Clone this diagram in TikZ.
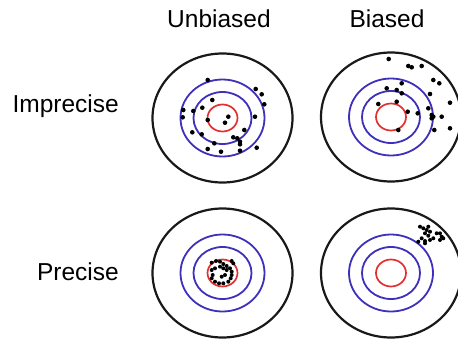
\documentclass[tikz,border=0pt]{standalone}
\usepackage{fontspec}
\setmainfont{Liberation Sans}
\usepackage{tikz}
\usetikzlibrary{positioning}
\usepackage{xcolor}
\definecolor{ringblue}{RGB}{62,48,186}
\definecolor{ringred}{RGB}{226,48,48}

\begin{document}
\begin{tikzpicture}[x=1pt,y=-1pt,font=\fontsize{24.5}{29}\selectfont]
\tikzset{
  outer/.style={draw=black!90,line width=2.2pt},
  blue ring/.style={draw=ringblue,line width=1.8pt},
  red ring/.style={draw=ringred,line width=1.7pt},
  hit/.style={fill=black},
  lbl/.style={inner sep=0pt}
}
\useasboundingbox (0,0) rectangle (458,338);

% column and row labels
\node[lbl,anchor=base] (unb) at (219,27.7) {Unbiased};
\node[lbl,anchor=base] (bia) at (387,27.7) {Biased};
\node[lbl,anchor=base east] (impr) at (119,112.3) {Imprecise};
\node[lbl,anchor=base east] (prec) at (119,280) {Precise};

% the four targets
\foreach \cx/\cy/\nm in {222.5/118/tl,391/117/tr,222.5/273/bl,391/273/br}{
  \coordinate (\nm) at (\cx,\cy);
  \draw[outer] (\nm) ellipse [x radius=70,y radius=64.5];
  \draw[blue ring] (\nm) ellipse [x radius=42,y radius=38.5];
  \draw[blue ring] (\nm) ellipse [x radius=29,y radius=26];
  \draw[red ring] (\nm) ellipse [x radius=15,y radius=13.5];
}

% imprecise, unbiased
\foreach \p in {(207.7,80),(255.7,89),(261.7,94.3),(264.3,104.3),(212.3,100),
  (202.3,107.7),(183.3,110),(193.3,111),(182.7,117.3),(228.3,116.7),(207.7,120),
  (225,122.7),(255,116.7),(244.3,130),(192.3,132.3),(201.7,134.3),(233.3,137.3),
  (237.3,138.3),(240,141.7),(240,144.3),(214.3,143.3),(256.7,147.7),(207.7,149),
  (221,151.7),(240,150.7)}
  \fill[hit] \p circle (2.3);

% imprecise, biased
\foreach \p in {(388.7,59),(408.3,66),(411.7,67.3),(421.7,66),(433.3,80),(439.3,83.3),
  (401.7,83.3),(386.7,88.3),(396.7,90),(401.7,93.3),(430,94),(450,102.7),(378.3,104),
  (396.7,101.7),(407.7,111.7),(417.7,113.3),(428.3,108.3),(431.7,115),(433.3,116.7),
  (431.7,118.3),(441.7,116.7),(450,128.3),(434.3,130),(398.3,130)}
  \fill[hit] \p circle (2.3);

% precise, unbiased
\foreach \p in {(211.7,262.7),(216,261),(220,261.7),(223.3,264),(226.7,266),(231.7,261),
  (233.3,263.3),(230,268.3),(231.7,271.7),(226.7,270),(223.3,268.3),(220,266.7),
  (215,268.3),(211.7,270),(212.7,275),(211.7,278.3),(215,281.7),(219,283.3),
  (223.3,283.3),(228.3,281.7),(230.7,278.3),(231.7,275),(225,275),(221.7,276.7)}
  \fill[hit] \p circle (2);

% precise, biased
\foreach \p in {(420,226.7),(423.3,228.3),(426.7,230),(430,231.7),(428.3,226.7),
  (425,233.3),(428.3,235.7),(421.7,238.3),(425,241),(430,240),(433.3,238.3),
  (436.7,233.3),(440,233.3),(441.7,236.7),(443.3,238.3),(440,240),(418.3,241.7),
  (425,243.3)}
  \fill[hit] \p circle (2);
\end{tikzpicture}
\end{document}
